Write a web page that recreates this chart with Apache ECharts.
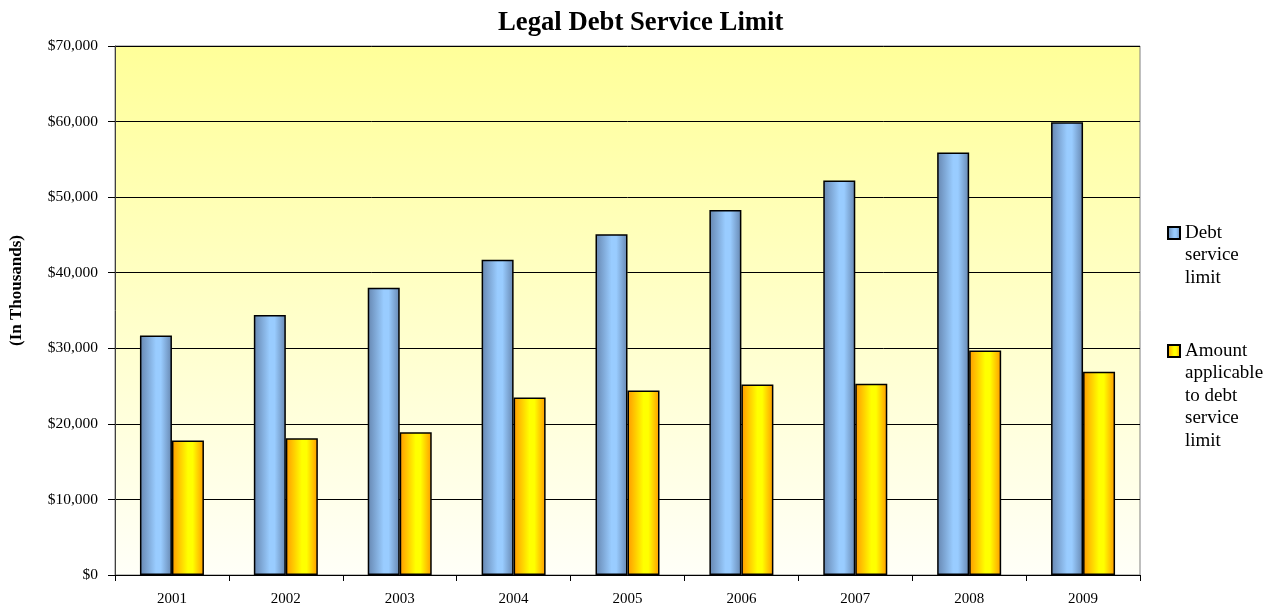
<!DOCTYPE html>
<html>
<head>
<meta charset="utf-8">
<script src="https://cdn.jsdelivr.net/npm/echarts@6/dist/echarts.min.js"></script>
<style>
html,body{margin:0;padding:0;background:#fff;}
#c{width:1273px;height:609px;}
</style>
</head>
<body>
<div id="c"></div>
<script>
var categories = ['2001','2002','2003','2004','2005','2006','2007','2008','2009'];
var debtServiceLimit = [31700, 34400, 38000, 41700, 45100, 48300, 52200, 55900, 59900];
var amountApplicable = [17800, 18100, 18900, 23500, 24400, 25200, 25300, 29700, 26900];
var seriesNames = ['Debt\nservice\nlimit', 'Amount\napplicable\nto debt\nservice\nlimit'];

var serif = '"Liberation Serif", "Times New Roman", serif';
var chart = echarts.init(document.getElementById('c'), null, {renderer: 'canvas'});

var blueGrad = new echarts.graphic.LinearGradient(0, 0, 1, 0, [
  {offset: 0, color: '#6686B0'},
  {offset: 0.5, color: '#99CCFF'},
  {offset: 0.65, color: '#99CCFF'},
  {offset: 1, color: '#6686B0'}
]);
var yellowGrad = new echarts.graphic.LinearGradient(0, 0, 1, 0, [
  {offset: 0, color: '#FF9900'},
  {offset: 0.5, color: '#FFFF00'},
  {offset: 0.65, color: '#FFFF00'},
  {offset: 1, color: '#FF9900'}
]);

var LH = 22.5;
function legendFor(name, iconCenterY) {
  var lines = name.split('\n').length;
  var totalLines = 2 * lines - 1;
  var top = iconCenterY - totalLines * LH / 2;
  return {
    data: [name],
    orient: 'vertical',
    left: 1167,
    top: top,
    itemWidth: 12,
    itemHeight: 12,
    itemGap: 0,
    padding: 0,
    selectedMode: false,
    icon: 'rect',
    formatter: function (n) {
      var pre = '';
      for (var i = 1; i < lines; i++) pre += '\n';
      return pre + n;
    },
    textStyle: {
      fontFamily: serif,
      fontSize: 19,
      color: '#000',
      lineHeight: LH
    }
  };
}

var option = {
  backgroundColor: '#ffffff',
  animation: false,
  title: {
    text: 'Legal Debt Service Limit',
    left: 493,
    top: 5,
    textStyle: {fontFamily: serif, fontSize: 26.7, fontWeight: 'bold', color: '#000'}
  },
  legend: [
    legendFor(seriesNames[0], 233),
    legendFor(seriesNames[1], 351)
  ],
  grid: {
    left: 115, right: 133, top: 46, bottom: 34,
    show: true,
    borderColor: '#808080',
    borderWidth: 1,
    backgroundColor: new echarts.graphic.LinearGradient(0, 0, 0, 1, [
      {offset: 0, color: '#FFFF99'},
      {offset: 1, color: '#FFFFF8'}
    ])
  },
  xAxis: {
    type: 'category',
    data: categories,
    axisLine: {lineStyle: {color: '#000', width: 1}},
    axisTick: {show: true, length: 6, lineStyle: {color: '#000'}},
    axisLabel: {fontFamily: serif, fontSize: 15, color: '#000', margin: 17},
    splitLine: {show: false}
  },
  yAxis: {
    type: 'value',
    min: 0, max: 70000, interval: 10000,
    name: '(In Thousands)',
    nameLocation: 'middle',
    nameGap: 90,
    nameTextStyle: {fontFamily: serif, fontSize: 17, fontWeight: 'bold', color: '#000', padding: [0, 0, 0, 40]},
    axisLine: {show: true, lineStyle: {color: '#404040', width: 1}},
    axisTick: {show: true, length: 7, lineStyle: {color: '#000'}},
    axisLabel: {
      fontFamily: serif, fontSize: 15.5, color: '#000', margin: 17,
      formatter: function (v) { return '$' + v.toLocaleString('en-US'); }
    },
    splitLine: {show: true, lineStyle: {color: '#000', width: 1}}
  },
  series: [
    {
      name: seriesNames[0],
      type: 'bar',
      data: debtServiceLimit,
      barWidth: 32,
      barGap: '0%',
      itemStyle: {color: blueGrad, borderColor: '#000', borderWidth: 1.5}
    },
    {
      name: seriesNames[1],
      type: 'bar',
      data: amountApplicable,
      barWidth: 32,
      barGap: '0%',
      itemStyle: {color: yellowGrad, borderColor: '#000', borderWidth: 1.5}
    }
  ]
};
chart.setOption(option);
</script>
</body>
</html>
